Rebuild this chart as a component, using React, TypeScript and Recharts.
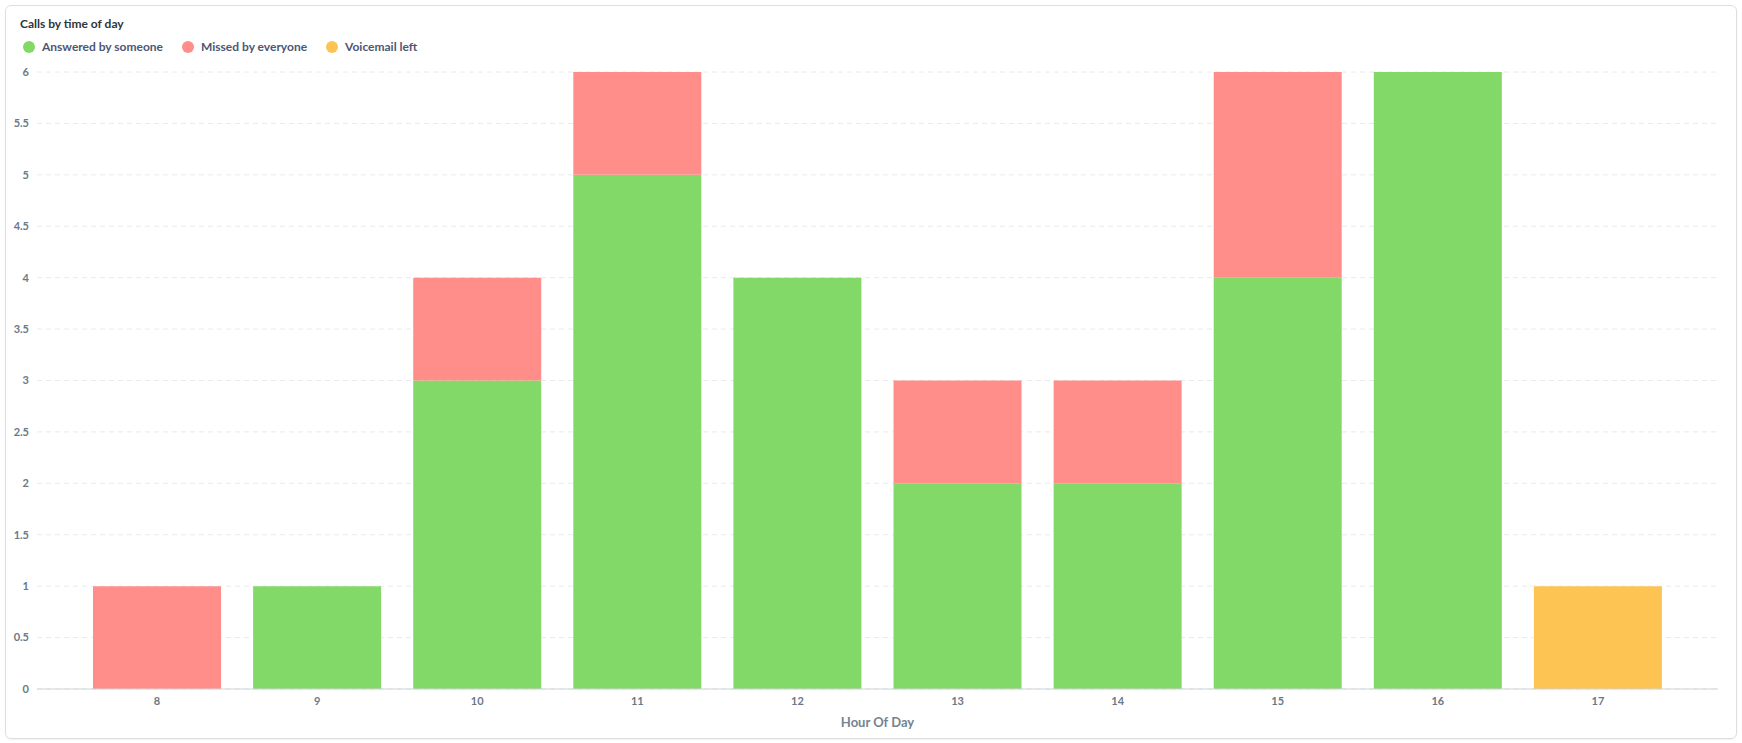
import React from 'react';
import { BarChart, Bar, XAxis, YAxis, CartesianGrid, Legend } from 'recharts';

const hours = ['8', '9', '10', '11', '12', '13', '14', '15', '16', '17'];
const answered = [0, 1, 3, 5, 4, 2, 2, 4, 6, 0];
const missed = [1, 0, 1, 1, 0, 1, 1, 2, 0, 0];
const voicemail = [0, 0, 0, 0, 0, 0, 0, 0, 0, 1];
const yTicks = [0, 0.5, 1, 1.5, 2, 2.5, 3, 3.5, 4, 4.5, 5, 5.5, 6];

const seriesNames = ['Answered by someone', 'Missed by everyone', 'Voicemail left'];
const seriesColors = ['#83D967', '#FF8E8B', '#FDC453'];

const data = hours.map((h, i) => ({
  hour: h,
  answered: answered[i] || null,
  missed: missed[i] || null,
  voicemail: voicemail[i] || null,
}));

const FONT = 'Lato, "Noto Sans", sans-serif';

const LegendContent = (props: any) => {
  const { payload } = props;
  return (
    <div style={{ fontFamily: FONT }}>
      <div style={{ fontSize: 12, fontWeight: 700, color: '#2e353b', height: 18, lineHeight: '18px' }}>
        Calls by time of day
      </div>
      <div style={{ display: 'flex', alignItems: 'center', marginTop: 6, marginLeft: 3 }}>
        {(payload || []).map((p: any, i: number) => (
          <div key={i} style={{ display: 'flex', alignItems: 'center', marginRight: 19 }}>
            <span
              style={{
                display: 'inline-block',
                width: 12,
                height: 12,
                borderRadius: 6,
                background: p.color,
                marginRight: 7,
              }}
            />
            <span style={{ fontSize: 12, fontWeight: 700, color: '#4c5773' }}>{p.value}</span>
          </div>
        ))}
      </div>
    </div>
  );
};

export default function App() {
  return (
    <div style={{ position: 'absolute', left: 0, top: 0, width: 1742, height: 743, background: '#fff' }}>
      <div
        style={{
          position: 'absolute',
          left: 5,
          top: 5,
          width: 1730,
          height: 732,
          border: '1px solid #dcdfe2',
          borderRadius: 6,
          boxShadow: '0 1px 2px rgba(0,0,0,0.06)',
        }}
      />
      <div style={{ position: 'absolute', left: 0, top: 0 }}>
        <BarChart
          width={1742}
          height={743}
          data={data}
          margin={{ top: 33, right: 24, bottom: 0, left: 0 }}
          barCategoryGap="10%"
        >
          <CartesianGrid vertical={false} stroke="#e8eaec" strokeDasharray="5 4" />
          <XAxis
            dataKey="hour"
            height={54}
            padding={{ left: 40, right: 40 }}
            tickLine={false}
            axisLine={{ stroke: '#cfd3d7' }}
            tick={{ fill: '#6b7886', fontSize: 11, fontWeight: 700, fontFamily: FONT }}
            tickMargin={2}
            label={{
              value: 'Hour Of Day',
              position: 'insideBottom',
              offset: 16,
              fill: '#74838f',
              fontSize: 13,
              fontWeight: 700,
              fontFamily: FONT,
            }}
          />
          <YAxis
            width={37}
            domain={[0, 6]}
            ticks={yTicks}
            interval={0}
            axisLine={false}
            tickLine={false}
            tick={{ fill: '#6b7886', fontSize: 11, fontWeight: 700, fontFamily: FONT }}
          />
          <Legend
            verticalAlign="top"
            align="left"
            content={<LegendContent />}
            wrapperStyle={{ position: 'absolute', left: 20, top: 15, width: 800 }}
          />
          <Bar dataKey="answered" name={seriesNames[0]} stackId="a" fill={seriesColors[0]} isAnimationActive={false} />
          <Bar dataKey="missed" name={seriesNames[1]} stackId="a" fill={seriesColors[1]} isAnimationActive={false} />
          <Bar dataKey="voicemail" name={seriesNames[2]} stackId="a" fill={seriesColors[2]} isAnimationActive={false} />
        </BarChart>
      </div>
    </div>
  );
}
